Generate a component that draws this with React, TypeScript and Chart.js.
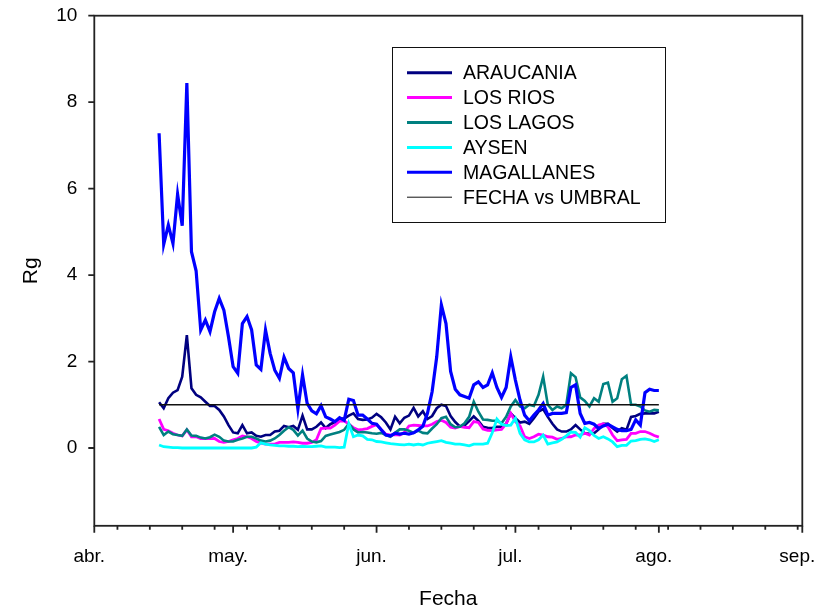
import React, { useEffect, useRef } from 'react';
import { Chart, registerables } from 'chart.js';

Chart.register(...registerables);

// Day index: 0 = 1 abr.
const START_DAY = 14; // 15 abr.
const MONTH_TICKS = [0, 30, 61, 91, 122, 153];
const MONTH_LABELS = ['abr.', 'may.', 'jun.', 'jul.', 'ago.', 'sep.'];
const WEEK_TICKS = [5, 12, 19, 26, 33, 40, 47, 54, 61, 68, 75, 82, 89, 96, 103, 110, 117, 124, 131, 138, 145, 152];
const Y_TICKS = [0, 2, 4, 6, 8, 10];

const SERIES_NAMES = ['ARAUCANIA', 'LOS RIOS', 'LOS LAGOS', 'AYSEN', 'MAGALLANES', 'FECHA vs UMBRAL'];

const ARAUCANIA = [
  1.06, 0.92, 1.15, 1.28, 1.34, 1.65, 2.61, 1.38, 1.23, 1.17,
  1.07, 0.97, 0.97, 0.88, 0.73, 0.53, 0.36, 0.34, 0.53, 0.34,
  0.36, 0.28, 0.26, 0.30, 0.30, 0.38, 0.40, 0.51, 0.48, 0.51,
  0.42, 0.75, 0.43, 0.43, 0.49, 0.59, 0.46, 0.55, 0.60, 0.68,
  0.68, 0.75, 0.80, 0.67, 0.65, 0.66, 0.70, 0.79, 0.71, 0.59,
  0.43, 0.72, 0.57, 0.70, 0.75, 0.93, 0.73, 0.85, 0.67, 0.74,
  0.92, 1.00, 0.97, 0.74, 0.60, 0.50, 0.52, 0.62, 0.73, 0.63,
  0.49, 0.47, 0.46, 0.49, 0.49, 0.56, 0.80, 0.69, 0.59, 0.61,
  0.56, 0.69, 0.84, 0.90, 0.72, 0.56, 0.43, 0.38, 0.38, 0.43,
  0.53, 0.43, 0.34, 0.33, 0.34, 0.43, 0.56, 0.56, 0.46, 0.38,
  0.46, 0.42, 0.72, 0.74, 0.79, 0.80, 0.80, 0.80, 0.84,
];

const LOS_RIOS = [
  0.67, 0.43, 0.40, 0.34, 0.30, 0.28, 0.42, 0.26, 0.26, 0.22,
  0.22, 0.22, 0.22, 0.15, 0.13, 0.15, 0.19, 0.22, 0.28, 0.26,
  0.22, 0.15, 0.11, 0.09, 0.09, 0.09, 0.13, 0.13, 0.13, 0.14,
  0.13, 0.11, 0.11, 0.13, 0.19, 0.45, 0.46, 0.46, 0.53, 0.62,
  0.63, 0.55, 0.47, 0.42, 0.43, 0.45, 0.50, 0.54, 0.43, 0.32,
  0.30, 0.31, 0.30, 0.36, 0.51, 0.53, 0.52, 0.51, 0.51, 0.55,
  0.61, 0.64, 0.59, 0.48, 0.46, 0.50, 0.48, 0.47, 0.61, 0.59,
  0.44, 0.41, 0.40, 0.42, 0.43, 0.56, 0.80, 0.61, 0.51, 0.26,
  0.22, 0.26, 0.32, 0.30, 0.26, 0.25, 0.20, 0.22, 0.26, 0.26,
  0.30, 0.30, 0.34, 0.30, 0.45, 0.53, 0.56, 0.49, 0.30, 0.17,
  0.19, 0.20, 0.34, 0.34, 0.38, 0.38, 0.34, 0.29, 0.25,
];

const LOS_LAGOS = [
  0.49, 0.30, 0.38, 0.32, 0.30, 0.28, 0.43, 0.29, 0.28, 0.24,
  0.22, 0.25, 0.31, 0.26, 0.17, 0.15, 0.15, 0.19, 0.22, 0.26,
  0.26, 0.22, 0.17, 0.15, 0.17, 0.22, 0.30, 0.40, 0.48, 0.42,
  0.29, 0.40, 0.22, 0.15, 0.13, 0.16, 0.28, 0.31, 0.34, 0.37,
  0.42, 0.56, 0.43, 0.36, 0.37, 0.36, 0.34, 0.33, 0.35, 0.30,
  0.26, 0.35, 0.43, 0.43, 0.40, 0.35, 0.40, 0.35, 0.34, 0.45,
  0.55, 0.69, 0.72, 0.55, 0.48, 0.49, 0.57, 0.72, 1.07, 0.84,
  0.66, 0.65, 0.63, 0.63, 0.57, 0.72, 0.96, 1.11, 0.96, 0.92,
  1.00, 0.97, 1.23, 1.65, 1.00, 0.88, 0.96, 0.92, 1.00, 1.73,
  1.64, 1.17, 1.09, 0.96, 1.15, 1.07, 1.48, 1.51, 1.07, 1.15,
  1.59, 1.67, 1.00, 1.00, 0.96, 0.87, 0.84, 0.88, 0.87,
];

const AYSEN = [
  0.07, 0.03, 0.02, 0.01, 0.01, 0.00, 0.00, 0.00, 0.00, 0.00,
  0.00, 0.00, 0.00, 0.00, 0.00, 0.00, 0.00, 0.00, 0.00, 0.00,
  0.00, 0.02, 0.12, 0.09, 0.07, 0.06, 0.05, 0.05, 0.04, 0.04,
  0.03, 0.04, 0.03, 0.03, 0.04, 0.05, 0.02, 0.02, 0.02, 0.01,
  0.02, 0.56, 0.26, 0.30, 0.28, 0.20, 0.19, 0.15, 0.14, 0.12,
  0.10, 0.09, 0.08, 0.07, 0.09, 0.07, 0.09, 0.07, 0.11, 0.13,
  0.15, 0.17, 0.13, 0.11, 0.09, 0.09, 0.07, 0.05, 0.09, 0.09,
  0.09, 0.11, 0.35, 0.67, 0.55, 0.52, 0.53, 0.69, 0.34, 0.19,
  0.14, 0.14, 0.19, 0.30, 0.09, 0.12, 0.14, 0.20, 0.28, 0.37,
  0.36, 0.25, 0.47, 0.40, 0.29, 0.22, 0.26, 0.21, 0.14, 0.03,
  0.06, 0.06, 0.16, 0.17, 0.20, 0.21, 0.19, 0.15, 0.19,
];

const MAGALLANES = [
  7.28, 4.71, 5.16, 4.73, 5.87, 5.14, 8.44, 4.54, 4.10, 2.73,
  2.96, 2.69, 3.15, 3.46, 3.19, 2.57, 1.88, 1.73, 2.88, 3.04,
  2.73, 1.92, 1.82, 2.73, 2.19, 1.80, 1.61, 2.10, 1.84, 1.74,
  0.90, 1.69, 1.03, 0.86, 0.79, 0.98, 0.72, 0.67, 0.61, 0.70,
  0.64, 1.13, 1.10, 0.76, 0.76, 0.67, 0.57, 0.55, 0.42, 0.30,
  0.28, 0.34, 0.32, 0.34, 0.32, 0.35, 0.42, 0.50, 0.80, 1.30,
  2.11, 3.31, 2.88, 1.77, 1.36, 1.23, 1.19, 1.15, 1.46, 1.53,
  1.40, 1.46, 1.74, 1.40, 1.17, 1.40, 2.11, 1.57, 1.11, 0.76,
  0.63, 0.76, 0.88, 1.03, 0.76, 0.80, 0.80, 0.80, 0.82, 1.40,
  1.46, 0.80, 0.57, 0.59, 0.55, 0.45, 0.51, 0.55, 0.49, 0.43,
  0.40, 0.40, 0.43, 0.65, 0.53, 1.28, 1.36, 1.33, 1.33,
];

const UMBRAL_DAYS = [14, 122];
const UMBRAL_VALUES = [1, 1];

const COLORS = ['#000080', '#ff00ff', '#008080', '#00ffff', '#0000ff', '#111111'];
const WIDTHS = [2.6, 2.8, 2.6, 2.8, 3.2, 1.4];

const FONT = '"Liberation Sans", Arial, Helvetica, sans-serif';

function toPoints(values: number[]) {
  return values.map((v, i) => ({ x: START_DAY + i, y: v }));
}

const framePlugin = {
  id: 'frameTicksLegend',
  afterDraw(chart: any) {
    const { ctx, chartArea: a } = chart;
    const xs = chart.scales.x;
    const ys = chart.scales.y;
    ctx.save();
    ctx.strokeStyle = '#222';
    ctx.lineWidth = 1.8;
    ctx.strokeRect(a.left, a.top, a.right - a.left, a.bottom - a.top);
    ctx.beginPath();
    MONTH_TICKS.forEach((d) => {
      const px = xs.getPixelForValue(d);
      ctx.moveTo(px, a.bottom);
      ctx.lineTo(px, a.bottom + 7);
    });
    WEEK_TICKS.forEach((d) => {
      const px = xs.getPixelForValue(d);
      ctx.moveTo(px, a.bottom);
      ctx.lineTo(px, a.bottom + 4);
    });
    Y_TICKS.forEach((v) => {
      const py = ys.getPixelForValue(v);
      ctx.moveTo(a.left, py);
      ctx.lineTo(a.left - 6, py);
    });
    ctx.stroke();

    // legend
    const bx = 392.5, by = 47.5, bw = 273, bh = 175;
    ctx.fillStyle = '#fff';
    ctx.fillRect(bx, by, bw, bh);
    ctx.strokeStyle = '#111';
    ctx.lineWidth = 1;
    ctx.strokeRect(bx, by, bw, bh);
    ctx.font = '19.5px ' + FONT;
    ctx.textBaseline = 'middle';
    ctx.textAlign = 'left';
    chart.data.datasets.forEach((ds: any, i: number) => {
      const yy = 72.7 + i * 24.9;
      ctx.strokeStyle = ds.borderColor;
      ctx.lineWidth = i === 5 ? 1 : 3;
      ctx.beginPath();
      ctx.moveTo(407, yy);
      ctx.lineTo(452, yy);
      ctx.stroke();
      ctx.fillStyle = '#000';
      ctx.fillText(ds.label, 463, yy + 1);
    });
    ctx.restore();
  },
};

export default function App() {
  const ref = useRef<HTMLCanvasElement | null>(null);

  useEffect(() => {
    if (!ref.current) return;
    const seriesValues = [ARAUCANIA, LOS_RIOS, LOS_LAGOS, AYSEN, MAGALLANES];
    const datasets: any[] = seriesValues.map((vals, i) => ({
      label: SERIES_NAMES[i],
      data: toPoints(vals),
      borderColor: COLORS[i],
      backgroundColor: COLORS[i],
      borderWidth: WIDTHS[i],
      pointRadius: 0,
      tension: 0,
      fill: false,
      order: 10 - i,
    }));
    datasets.push({
      label: SERIES_NAMES[5],
      data: UMBRAL_DAYS.map((d, i) => ({ x: d, y: UMBRAL_VALUES[i] })),
      borderColor: COLORS[5],
      backgroundColor: COLORS[5],
      borderWidth: WIDTHS[5],
      pointRadius: 0,
      fill: false,
      order: 0,
    });

    const chart = new Chart(ref.current, {
      type: 'line',
      data: { datasets },
      options: {
        responsive: false,
        animation: false,
        devicePixelRatio: 1,
        events: [],
        layout: { padding: { left: 0, right: 14.7, top: 15.7, bottom: 0 } },
        plugins: { legend: { display: false }, tooltip: { enabled: false } },
        scales: {
          x: {
            type: 'linear',
            min: 0,
            max: 153,
            grid: { display: false, drawTicks: false },
            border: { display: false },
            afterBuildTicks: (s: any) => {
              s.ticks = MONTH_TICKS.map((v) => ({ value: v }));
            },
            afterFit: (s: any) => {
              s.height = 84.2;
              s.paddingLeft = 0;
              s.paddingRight = 0;
            },
            ticks: {
              autoSkip: false,
              maxRotation: 0,
              padding: 20,
              labelOffset: -5,
              color: '#000',
              font: { family: FONT, size: 19 },
              callback: (v: any) => {
                const idx = MONTH_TICKS.indexOf(Number(v));
                return idx >= 0 ? MONTH_LABELS[idx] : '';
              },
            },
            title: {
              display: true,
              text: 'Fecha',
              color: '#000',
              font: { family: FONT, size: 21 },
              padding: { top: 0, bottom: -2 },
            },
          },
          y: {
            type: 'linear',
            min: -1.8,
            max: 10,
            grid: { display: false, drawTicks: false },
            border: { display: false },
            afterBuildTicks: (s: any) => {
              s.ticks = Y_TICKS.map((v) => ({ value: v }));
            },
            afterFit: (s: any) => {
              s.width = 94.3;
              s.paddingTop = 0;
              s.paddingBottom = 0;
            },
            ticks: {
              padding: 17,
              color: '#000',
              font: { family: FONT, size: 19 },
              callback: (v: any) => String(v),
            },
            title: {
              display: true,
              text: 'Rg',
              color: '#000',
              font: { family: FONT, size: 21 },
              padding: { top: 19, bottom: 0 },
            },
          },
        },
      } as any,
      plugins: [framePlugin],
    });
    return () => chart.destroy();
  }, []);

  return (
    <div style={{ position: 'absolute', left: 0, top: 0, width: 817, height: 610, background: '#fff' }}>
      <canvas ref={ref} width={817} height={610} style={{ display: 'block' }} />
    </div>
  );
}
